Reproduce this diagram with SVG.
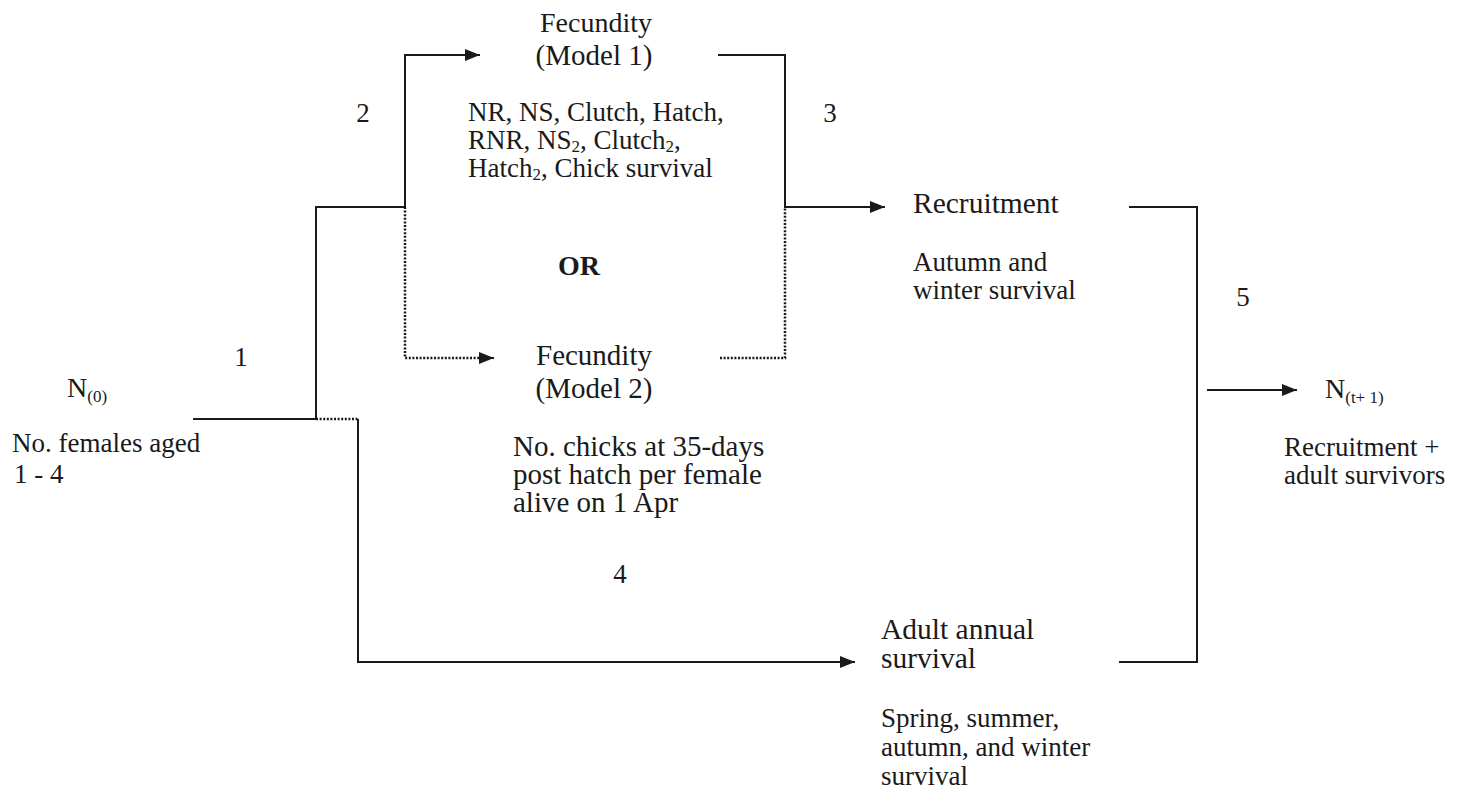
<svg xmlns="http://www.w3.org/2000/svg" width="1460" height="795" viewBox="0 0 1460 795">
<defs>
<marker id="ah" markerUnits="userSpaceOnUse" markerWidth="16" markerHeight="14" refX="15" refY="7" orient="auto">
<path d="M0,1 L15,7 L0,13 Z" fill="#1a1a1a"/>
</marker>
<style>
text{font-family:"Liberation Serif","Times New Roman",serif;font-size:27px;fill:#1a1a1a}
.t{font-size:29.5px}
.m{font-size:29px}
.sub{font-size:17px}
.b{font-weight:bold;font-size:28px}
.s{fill:none;stroke:#1a1a1a;stroke-width:2}
.d{fill:none;stroke:#1a1a1a;stroke-width:2.5;stroke-dasharray:2 1.6}
</style>
</defs>
<rect width="1460" height="795" fill="#fff"/>
<g id="connectors">
<polyline class="s" points="193,419 316,419 316,207 405,207 405,55 480,55" marker-end="url(#ah)"/>
<polyline class="d" points="405,207 405,358 480,358"/>
<line class="s" x1="478" y1="358" x2="494" y2="358" marker-end="url(#ah)"/>
<polyline class="d" points="316,419 358,419"/>
<polyline class="s" points="358,419 358,662 855,662" marker-end="url(#ah)"/>
<polyline class="s" points="718,55 785,55 785,207 885,207" marker-end="url(#ah)"/>
<polyline class="d" points="720,358 785,358 785,207"/>
<polyline class="s" points="1129,207 1197,207 1197,662 1119,662"/>
<line class="s" x1="1207" y1="390" x2="1297" y2="390" marker-end="url(#ah)"/>
<text x="241" y="366" text-anchor="middle">1</text>
<text x="363" y="122" text-anchor="middle">2</text>
<text x="830" y="122" text-anchor="middle">3</text>
<text x="620" y="583" text-anchor="middle">4</text>
<text x="1243" y="306" text-anchor="middle">5</text>
</g>
<g id="n0">
<text x="67" y="397" style="font-size:28px">N<tspan class="sub" dy="5">(0)</tspan></text>
<text x="12" y="452">No. females aged</text>
<text x="14" y="483"> 1 - 4</text>
</g>
<g id="fecundity1">
<text x="596" y="32" text-anchor="middle" style="font-size:28px">Fecundity</text>
<text class="m" x="594" y="65" text-anchor="middle">(Model 1)</text>
<text x="468" y="121">NR, NS, Clutch, Hatch,</text>
<text x="468" y="149">RNR, NS<tspan class="sub" dy="3">2</tspan><tspan dy="-3">, Clutch</tspan><tspan class="sub" dy="3">2</tspan><tspan dy="-3">,</tspan></text>
<text x="468" y="177">Hatch<tspan class="sub" dy="3">2</tspan><tspan dy="-3">, Chick survival</tspan></text>
</g>
<g id="or">
<text class="b" x="579" y="275" text-anchor="middle">OR</text>
</g>
<g id="fecundity2">
<text class="m" x="594" y="365" text-anchor="middle">Fecundity</text>
<text class="m" x="594" y="398" text-anchor="middle">(Model 2)</text>
<text class="m" x="513" y="456">No. chicks at 35-days</text>
<text class="m" x="513" y="484">post hatch per female</text>
<text class="m" x="513" y="512">alive on 1 Apr</text>
</g>
<g id="recruitment">
<text class="t" x="913" y="213">Recruitment</text>
<text x="913" y="271">Autumn and</text>
<text x="913" y="299">winter survival</text>
</g>
<g id="adult">
<text class="t" x="881" y="639">Adult annual</text>
<text class="t" x="881" y="668">survival</text>
<text x="881" y="727">Spring, summer,</text>
<text x="881" y="756">autumn, and winter</text>
<text x="881" y="785">survival</text>
</g>
<g id="nt1">
<text x="1325" y="398" style="font-size:28px">N<tspan class="sub" dy="5">(t+ 1)</tspan></text>
<text x="1284" y="456">Recruitment +</text>
<text x="1284" y="484">adult survivors</text>
</g>
</svg>
